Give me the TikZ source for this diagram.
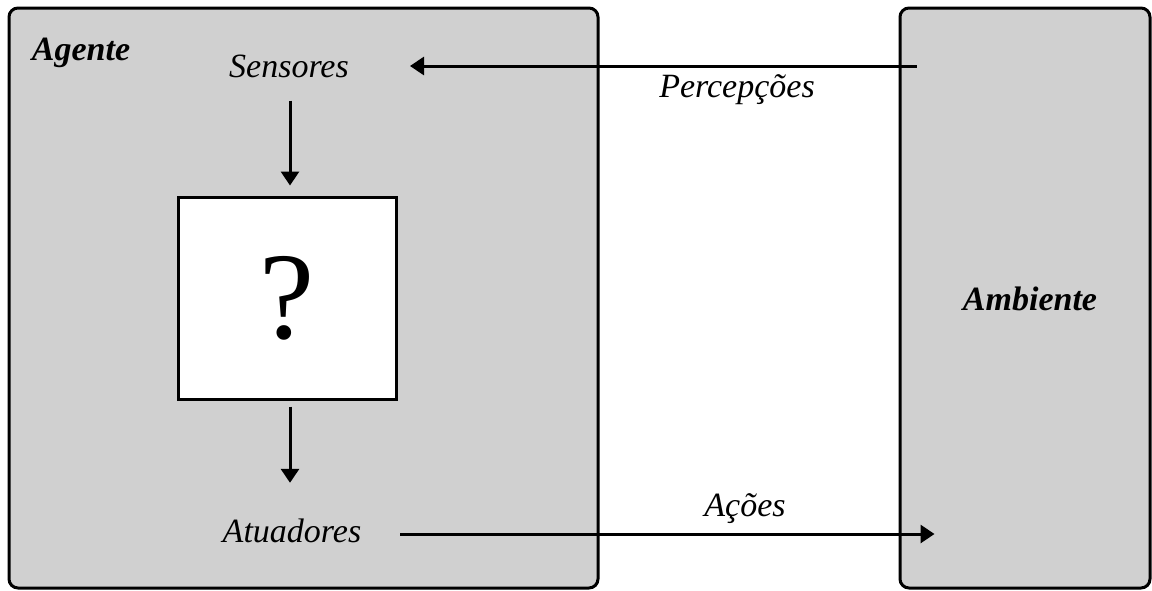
\documentclass[tikz,border=0pt]{standalone}
\usepackage{fontspec}
\setmainfont{Liberation Serif}
\usetikzlibrary{arrows.meta,calc}
\definecolor{panel}{RGB}{208,208,208}
\tikzset{
  panelbox/.style={draw=black, line width=3pt, fill=panel, rounded corners=9pt,
    inner sep=0pt, rectangle},
  lbl/.style={font=\fontsize{34}{40}\selectfont\itshape, inner sep=0pt},
  title/.style={font=\fontsize{34}{40}\selectfont\bfseries\itshape, inner sep=0pt},
  arr/.style={line width=3pt, -{Triangle[length=14pt,width=18pt]}},
}
\begin{document}
\begin{tikzpicture}[x=1pt,y=-1pt]
  \useasboundingbox (0,0) rectangle (1152,590);

  % agent and environment panels
  \node[panelbox, minimum width=589pt, minimum height=580pt] (agent) at (303.5,298) {};
  \node[panelbox, minimum width=250pt, minimum height=580pt] (amb) at (1025,298) {};

  % titles
  \node[title] (agtitle) at (81,53) {Agente};
  \node[title] (ambtitle) at (1030,299) {Ambiente};

  % inner parts of the agent
  \node[lbl] (sens) at (289,66) {Sensores};
  \node[draw=black, line width=3pt, fill=white, minimum width=218pt,
        minimum height=202pt, inner sep=0pt,
        font=\fontsize{124}{130}\selectfont] (qbox) at (287,298) {?};
  \node[lbl] (atu) at (292,531) {Atuadores};

  % edge labels
  \node[lbl] (perc) at (737,90) {Percepções};
  \node[lbl] (acoes) at (745,509) {Ações};

  % connectors
  \draw[arr] ($(sens.south)+(1pt,-23pt)$) -- ($(qbox.north)+(3pt,10pt)$);
  \draw[arr] ($(qbox.south)+(3pt,-6pt)$) -- ($(atu.north)+(-2pt,36pt)$);
  \draw[arr] ([xshift=18pt]amb.west |- sens) -- ([xshift=61pt]sens.east);
  \draw[arr] ([shift={(39pt,-3pt)}]atu.east) -- ([shift={(36pt,-3pt)}]amb.west |- atu);
\end{tikzpicture}
\end{document}
